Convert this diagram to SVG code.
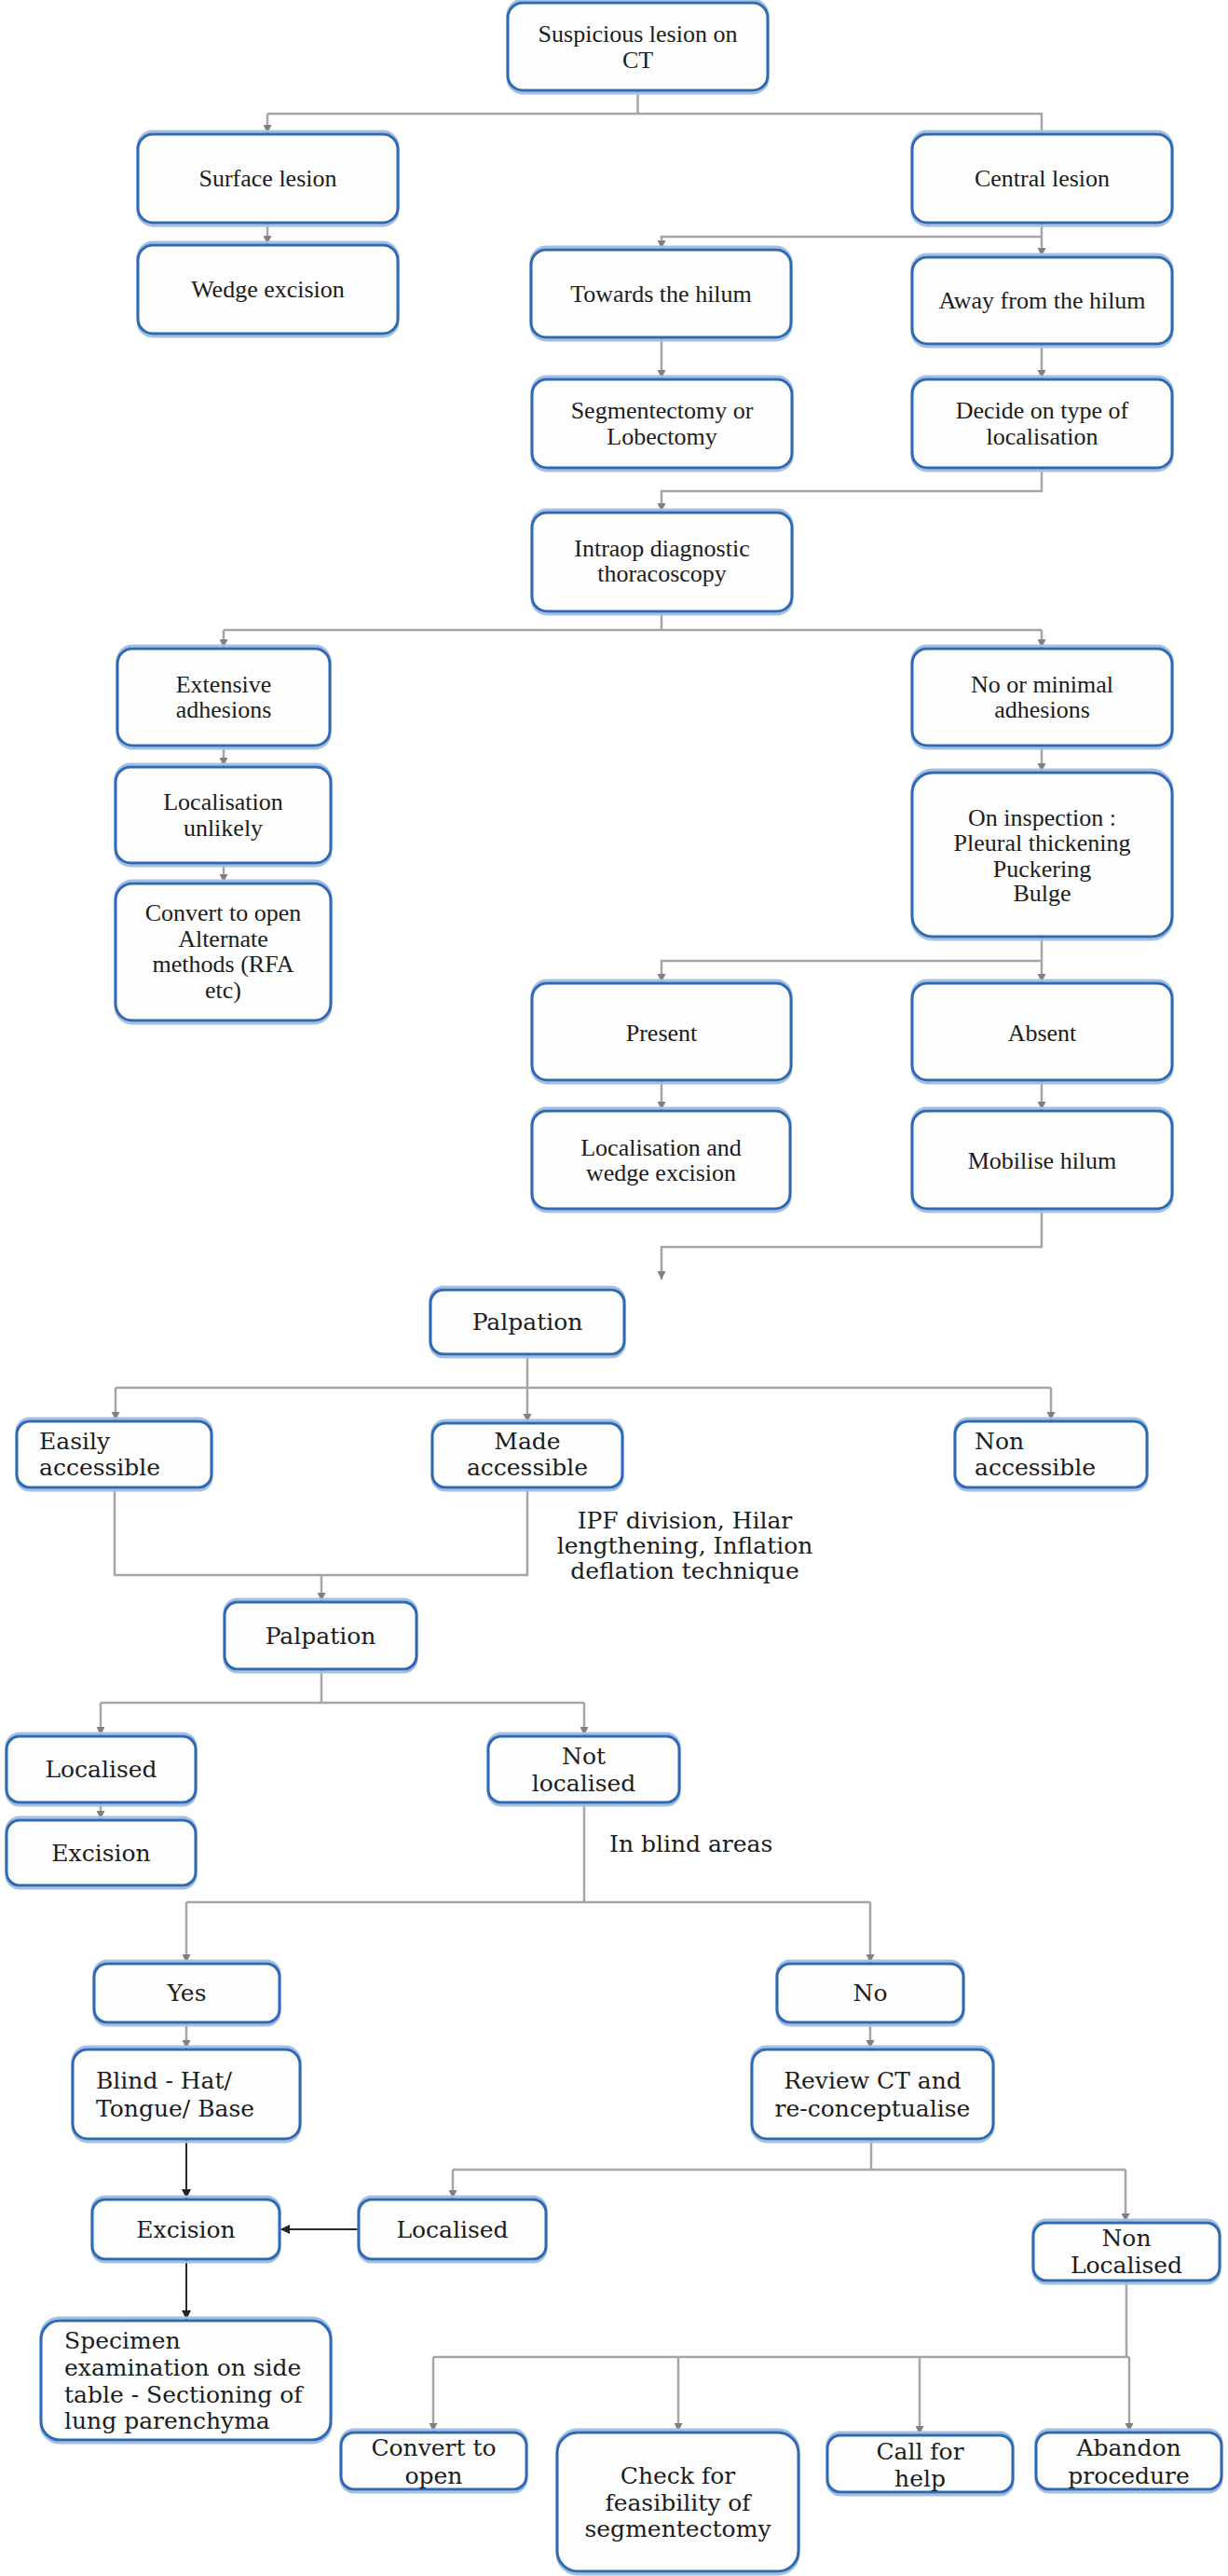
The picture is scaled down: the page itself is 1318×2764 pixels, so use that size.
<svg xmlns="http://www.w3.org/2000/svg" width="1318" height="2764" viewBox="0 0 1318 2764">
<style>
.b{fill:#fdfdfd;stroke:#2f69b1;stroke-width:3}
.h{fill:none;stroke:#a3bfe2;stroke-width:3}
.t{font-family:"Liberation Serif","Times New Roman",serif;font-size:26px;fill:#1c1c1c;text-anchor:middle}
.u{font-family:"DejaVu Serif",serif;font-size:25px;fill:#1c1c1c;text-anchor:middle}
.l{text-anchor:start}
.c{fill:none;stroke:#a6a6a6;stroke-width:2.5}
.d{fill:none;stroke:#2a2a2a;stroke-width:2}
</style>
<defs>
<marker id="ag" markerUnits="userSpaceOnUse" markerWidth="9" markerHeight="9" refX="9" refY="4.5" orient="auto"><path d="M0,0 L9,4.5 L0,9 z" fill="#808080"/></marker>
<marker id="ad" markerUnits="userSpaceOnUse" markerWidth="10" markerHeight="10" refX="10" refY="5" orient="auto"><path d="M0,0 L10,5 L0,10 z" fill="#222"/></marker>
</defs>
<rect width="1318" height="2764" fill="#ffffff"/>
<g id="connectors">
<path class="c" d="M684.5,97 V122 M287,122 H1118 V144"/>
<path class="c" marker-end="url(#ag)" d="M287,122 V143"/>
<path class="c" marker-end="url(#ag)" d="M287,239 V262"/>
<path class="c" marker-end="url(#ag)" d="M1118,239 V275"/>
<path class="c" marker-end="url(#ag)" d="M1118,254 H710 V267"/>
<path class="c" marker-end="url(#ag)" d="M710,362 V406"/>
<path class="c" marker-end="url(#ag)" d="M1118,369 V406"/>
<path class="c" marker-end="url(#ag)" d="M1118,502 V527 H710 V549"/>
<path class="c" d="M710,656 V676 M240,676 H1118"/>
<path class="c" marker-end="url(#ag)" d="M240,676 V695"/>
<path class="c" marker-end="url(#ag)" d="M1118,676 V695"/>
<path class="c" marker-end="url(#ag)" d="M240,800 V822"/>
<path class="c" marker-end="url(#ag)" d="M240,926 V947"/>
<path class="c" marker-end="url(#ag)" d="M1118,800 V828"/>
<path class="c" marker-end="url(#ag)" d="M1118,1005 V1054"/>
<path class="c" marker-end="url(#ag)" d="M1118,1031 H710 V1054"/>
<path class="c" marker-end="url(#ag)" d="M710,1159 V1191"/>
<path class="c" marker-end="url(#ag)" d="M1118,1159 V1191"/>
<path class="c" marker-end="url(#ag)" d="M1118,1297 V1338 H710 V1373"/>
<path class="c" marker-end="url(#ag)" d="M566,1453 V1526"/>
<path class="c" d="M124,1489 H1128"/>
<path class="c" marker-end="url(#ag)" d="M124,1489 V1524"/>
<path class="c" marker-end="url(#ag)" d="M1128,1489 V1524"/>
<path class="c" d="M123,1596 V1690 H566 V1596"/>
<path class="c" marker-end="url(#ag)" d="M345,1690 V1718"/>
<path class="c" d="M345,1791 V1827 M108,1827 H627"/>
<path class="c" marker-end="url(#ag)" d="M108,1827 V1862"/>
<path class="c" marker-end="url(#ag)" d="M627,1827 V1862"/>
<path class="c" marker-end="url(#ag)" d="M108,1934 V1952"/>
<path class="c" d="M627,1934 V2041 M200,2041 H934"/>
<path class="c" marker-end="url(#ag)" d="M200,2041 V2106"/>
<path class="c" marker-end="url(#ag)" d="M934,2041 V2106"/>
<path class="c" marker-end="url(#ag)" d="M200,2170 V2198"/>
<path class="c" marker-end="url(#ag)" d="M934,2170 V2198"/>
<path class="d" marker-end="url(#ad)" d="M200,2295 V2359"/>
<path class="c" d="M935,2295 V2328 M486,2328 H1208"/>
<path class="c" marker-end="url(#ag)" d="M486,2328 V2359"/>
<path class="c" marker-end="url(#ag)" d="M1208,2328 V2384"/>
<path class="d" marker-end="url(#ad)" d="M385,2392 H301"/>
<path class="d" marker-end="url(#ad)" d="M200,2424 V2489"/>
<path class="c" d="M1209,2447 V2529 M465,2529 H1212"/>
<path class="c" marker-end="url(#ag)" d="M465,2529 V2609"/>
<path class="c" marker-end="url(#ag)" d="M728,2529 V2609"/>
<path class="c" marker-end="url(#ag)" d="M987,2529 V2612"/>
<path class="c" marker-end="url(#ag)" d="M1212,2529 V2609"/>
</g>
<g id="n1"><rect class="h" x="545" y="0" width="279" height="100" rx="16"/><rect class="b" x="545" y="3" width="279" height="94" rx="16"/><text class="t" x="684.5" y="45">Suspicious lesion on</text><text class="t" x="684.5" y="73">CT</text></g>
<g id="n2"><rect class="h" x="148" y="141" width="279" height="101" rx="16"/><rect class="b" x="148" y="144" width="279" height="95" rx="16"/><text class="t" x="287.5" y="200">Surface lesion</text></g>
<g id="n3"><rect class="h" x="148" y="260" width="279" height="101" rx="16"/><rect class="b" x="148" y="263" width="279" height="95" rx="16"/><text class="t" x="287.5" y="319">Wedge excision</text></g>
<g id="n4"><rect class="h" x="979" y="141" width="279" height="101" rx="16"/><rect class="b" x="979" y="144" width="279" height="95" rx="16"/><text class="t" x="1118.5" y="200">Central lesion</text></g>
<g id="n5"><rect class="h" x="570" y="265" width="279" height="100" rx="16"/><rect class="b" x="570" y="268" width="279" height="94" rx="16"/><text class="t" x="709.5" y="324">Towards the hilum</text></g>
<g id="n6"><rect class="h" x="979" y="273" width="279" height="99" rx="16"/><rect class="b" x="979" y="276" width="279" height="93" rx="16"/><text class="t" x="1118.5" y="331">Away from the hilum</text></g>
<g id="n7"><rect class="h" x="571" y="404" width="279" height="101" rx="16"/><rect class="b" x="571" y="407" width="279" height="95" rx="16"/><text class="t" x="710.5" y="449">Segmentectomy or</text><text class="t" x="710.5" y="477">Lobectomy</text></g>
<g id="n8"><rect class="h" x="979" y="404" width="279" height="101" rx="16"/><rect class="b" x="979" y="407" width="279" height="95" rx="16"/><text class="t" x="1118.5" y="449">Decide on type of</text><text class="t" x="1118.5" y="477">localisation</text></g>
<g id="n9"><rect class="h" x="571" y="547" width="279" height="112" rx="16"/><rect class="b" x="571" y="550" width="279" height="106" rx="16"/><text class="t" x="710.5" y="597">Intraop diagnostic</text><text class="t" x="710.5" y="624">thoracoscopy</text></g>
<g id="n10"><rect class="h" x="126" y="693" width="228" height="110" rx="16"/><rect class="b" x="126" y="696" width="228" height="104" rx="16"/><text class="t" x="240" y="743">Extensive</text><text class="t" x="240" y="770">adhesions</text></g>
<g id="n11"><rect class="h" x="979" y="693" width="279" height="110" rx="16"/><rect class="b" x="979" y="696" width="279" height="104" rx="16"/><text class="t" x="1118.5" y="743">No or minimal</text><text class="t" x="1118.5" y="770">adhesions</text></g>
<g id="n12"><rect class="h" x="124" y="820" width="231" height="109" rx="16"/><rect class="b" x="124" y="823" width="231" height="103" rx="16"/><text class="t" x="239.5" y="869">Localisation</text><text class="t" x="239.5" y="897">unlikely</text></g>
<g id="n13"><rect class="h" x="124" y="945" width="231" height="153" rx="18"/><rect class="b" x="124" y="948" width="231" height="147" rx="18"/><text class="t" x="239.5" y="988">Convert to open</text><text class="t" x="239.5" y="1016">Alternate</text><text class="t" x="239.5" y="1043">methods (RFA</text><text class="t" x="239.5" y="1071">etc)</text></g>
<g id="n14"><rect class="h" x="979" y="826" width="279" height="182" rx="22"/><rect class="b" x="979" y="829" width="279" height="176" rx="22"/><text class="t" x="1118.5" y="886">On inspection :</text><text class="t" x="1118.5" y="913">Pleural thickening</text><text class="t" x="1118.5" y="941">Puckering</text><text class="t" x="1118.5" y="967">Bulge</text></g>
<g id="n15"><rect class="h" x="571" y="1052" width="278" height="110" rx="16"/><rect class="b" x="571" y="1055" width="278" height="104" rx="16"/><text class="t" x="710" y="1117">Present</text></g>
<g id="n16"><rect class="h" x="979" y="1052" width="279" height="110" rx="16"/><rect class="b" x="979" y="1055" width="279" height="104" rx="16"/><text class="t" x="1118.5" y="1117">Absent</text></g>
<g id="n17"><rect class="h" x="571" y="1189" width="277" height="111" rx="16"/><rect class="b" x="571" y="1192" width="277" height="105" rx="16"/><text class="t" x="709.5" y="1240">Localisation and</text><text class="t" x="709.5" y="1267">wedge excision</text></g>
<g id="n18"><rect class="h" x="979" y="1189" width="279" height="111" rx="16"/><rect class="b" x="979" y="1192" width="279" height="105" rx="16"/><text class="t" x="1118.5" y="1254">Mobilise hilum</text></g>
<g id="n19"><rect class="h" x="462" y="1381" width="208" height="75" rx="14"/><rect class="b" x="462" y="1384" width="208" height="69" rx="14"/><text class="u" x="566" y="1427">Palpation</text></g>
<g id="n20"><rect class="h" x="18" y="1522" width="209" height="77" rx="14"/><rect class="b" x="18" y="1525" width="209" height="71" rx="14"/><text class="u l" x="42" y="1555">Easily</text><text class="u l" x="42" y="1583">accessible</text></g>
<g id="n21"><rect class="h" x="464" y="1524" width="204" height="75" rx="14"/><rect class="b" x="464" y="1527" width="204" height="69" rx="14"/><text class="u" x="566" y="1555">Made</text><text class="u" x="566" y="1583">accessible</text></g>
<g id="n22"><rect class="h" x="1025" y="1522" width="206" height="77" rx="14"/><rect class="b" x="1025" y="1525" width="206" height="71" rx="14"/><text class="u l" x="1046" y="1555">Non</text><text class="u l" x="1046" y="1583">accessible</text></g>
<g id="lbl-ipf"><text class="u" x="735" y="1640">IPF division, Hilar</text><text class="u" x="735" y="1667">lengthening, Inflation</text><text class="u" x="735" y="1694">deflation technique</text></g>
<g id="n24"><rect class="h" x="241" y="1716" width="206" height="78" rx="14"/><rect class="b" x="241" y="1719" width="206" height="72" rx="14"/><text class="u" x="344" y="1764">Palpation</text></g>
<g id="n25"><rect class="h" x="7" y="1860" width="203" height="77" rx="14"/><rect class="b" x="7" y="1863" width="203" height="71" rx="14"/><text class="u" x="108.5" y="1907">Localised</text></g>
<g id="n26"><rect class="h" x="7" y="1950" width="203" height="76" rx="14"/><rect class="b" x="7" y="1953" width="203" height="70" rx="14"/><text class="u" x="108.5" y="1997">Excision</text></g>
<g id="n27"><rect class="h" x="524" y="1860" width="205" height="77" rx="14"/><rect class="b" x="524" y="1863" width="205" height="71" rx="14"/><text class="u" x="626.5" y="1893">Not</text><text class="u" x="626.5" y="1922">localised</text></g>
<g id="lbl-blind"><text class="u l" x="654" y="1987">In blind areas</text></g>
<g id="n29"><rect class="h" x="101" y="2104" width="199" height="69" rx="14"/><rect class="b" x="101" y="2107" width="199" height="63" rx="14"/><text class="u" x="200.5" y="2147">Yes</text></g>
<g id="n30"><rect class="h" x="834" y="2104" width="200" height="69" rx="14"/><rect class="b" x="834" y="2107" width="200" height="63" rx="14"/><text class="u" x="934" y="2147">No</text></g>
<g id="n31"><rect class="h" x="78" y="2196" width="244" height="102" rx="16"/><rect class="b" x="78" y="2199" width="244" height="96" rx="16"/><text class="u l" x="103" y="2241">Blind - Hat/</text><text class="u l" x="103" y="2271">Tongue/ Base</text></g>
<g id="n32"><rect class="h" x="807" y="2196" width="259" height="102" rx="16"/><rect class="b" x="807" y="2199" width="259" height="96" rx="16"/><text class="u" x="936.5" y="2241">Review CT and</text><text class="u" x="936.5" y="2271">re-conceptualise</text></g>
<g id="n33"><rect class="h" x="99" y="2357" width="201" height="70" rx="14"/><rect class="b" x="99" y="2360" width="201" height="64" rx="14"/><text class="u" x="199.5" y="2401">Excision</text></g>
<g id="n34"><rect class="h" x="385" y="2357" width="201" height="70" rx="14"/><rect class="b" x="385" y="2360" width="201" height="64" rx="14"/><text class="u" x="485.5" y="2401">Localised</text></g>
<g id="n35"><rect class="h" x="1109" y="2382" width="200" height="68" rx="14"/><rect class="b" x="1109" y="2385" width="200" height="62" rx="14"/><text class="u" x="1209" y="2410">Non</text><text class="u" x="1209" y="2439">Localised</text></g>
<g id="n36"><rect class="h" x="44" y="2487" width="311" height="134" rx="20"/><rect class="b" x="44" y="2490" width="311" height="128" rx="20"/><text class="u l" x="69" y="2520">Specimen</text><text class="u l" x="69" y="2549">examination on side</text><text class="u l" x="69" y="2578">table - Sectioning of</text><text class="u l" x="69" y="2606">lung parenchyma</text></g>
<g id="n37"><rect class="h" x="366" y="2607" width="199" height="67" rx="14"/><rect class="b" x="366" y="2610" width="199" height="61" rx="14"/><text class="u" x="465.5" y="2635">Convert to</text><text class="u" x="465.5" y="2665">open</text></g>
<g id="n38"><rect class="h" x="598" y="2607" width="259" height="155" rx="22"/><rect class="b" x="598" y="2610" width="259" height="149" rx="22"/><text class="u" x="727.5" y="2665">Check for</text><text class="u" x="727.5" y="2694">feasibility of</text><text class="u" x="727.5" y="2722">segmentectomy</text></g>
<g id="n39"><rect class="h" x="888" y="2610" width="199" height="67" rx="14"/><rect class="b" x="888" y="2613" width="199" height="61" rx="14"/><text class="u" x="987.5" y="2639">Call for</text><text class="u" x="987.5" y="2668">help</text></g>
<g id="n40"><rect class="h" x="1112" y="2607" width="199" height="67" rx="14"/><rect class="b" x="1112" y="2610" width="199" height="61" rx="14"/><text class="u" x="1211.5" y="2635">Abandon</text><text class="u" x="1211.5" y="2665">procedure</text></g>
</svg>
